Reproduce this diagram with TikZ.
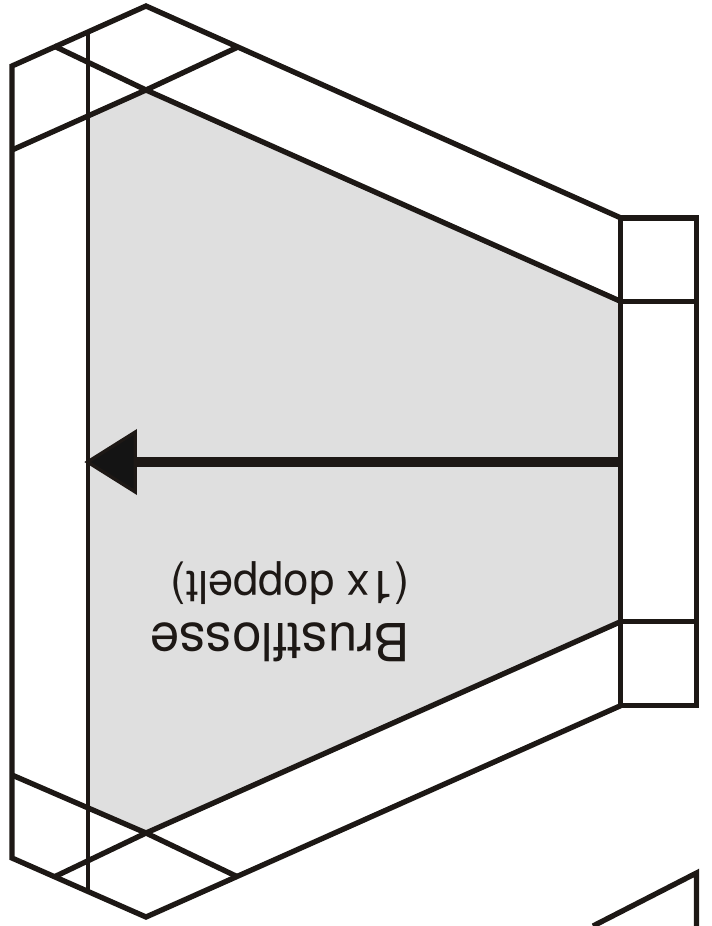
\documentclass[tikz,border=0pt]{standalone}
\usepackage{fontspec}
\setmainfont{TeX Gyre Heros}
\definecolor{finink}{RGB}{29,24,21}
\definecolor{fingrey}{RGB}{223,223,223}
\tikzset{
  finline/.style={draw=finink,line width=4pt,line join=miter},
  finthin/.style={draw=finink,line width=3.6pt},
  fintext/.style={text=finink,rotate=180,anchor=base west,inner sep=0pt}
}
\begin{document}
\begin{tikzpicture}[x=0.75pt,y=0.75pt,yscale=-1,xscale=1]
\useasboundingbox (0,0) rectangle (712,926);

%Shape: grey fin
\fill [fingrey] (88,115) -- (146,90) -- (621,301) -- (621,622) -- (146,833) -- (88,808) -- cycle;
%Straight Lines: outer outline
\draw [finline] (621,218) -- (146,6) -- (12,66) -- (12,858) -- (146,917) -- (621,705.5) ;
%Straight Lines: right box
\draw [finline] (620.5,218) -- (696.5,218) -- (696.5,705.5) -- (620.5,705.5) -- cycle ;
\draw [finline] (620.5,301.5) -- (696.5,301.5) ;
\draw [finline] (620.5,621.5) -- (696.5,621.5) ;
%Straight Lines: upper crossing
\draw [finline] (54,46) -- (146,90) -- (621,301.5) ;
\draw [finline] (238,47) -- (146,90) -- (12,150) ;
%Straight Lines: lower crossing
\draw [finline] (12,775) -- (146,833) -- (238,877) ;
\draw [finline] (54,877) -- (146,833) -- (621,621.5) ;
%Straight Lines: vertical
\draw [finthin] (88,34) -- (88,890) ;
%Straight Lines: arrow
\draw [draw=finink,line width=8pt] (621,462) -- (130,462) ;
\draw [draw=finink,fill=black!92,line width=2.5pt,line join=miter] (87.5,462) -- (135.3,432) -- (135.3,492) -- cycle ;
%Straight Lines: next fin
\draw [finline] (593,926) -- (696.5,873) -- (696.5,930) ;

\node [fintext,font=\fontsize{39.4pt}{40pt}\selectfont] (finname) at (410,623) {Brustflosse};
\node [fintext,font=\fontsize{34pt}{36pt}\selectfont] (fincount) at (410,571) {(1x doppelt)};
\end{tikzpicture}
\end{document}
